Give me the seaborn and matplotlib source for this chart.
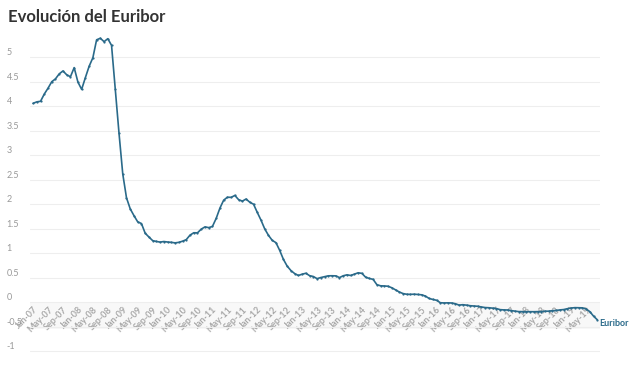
import numpy as np
import pandas as pd
import seaborn as sns
import matplotlib.pyplot as plt

# monthly 12-month Euribor, Jan-07 .. Aug-19
euribor = [
    4.064, 4.094, 4.106, 4.253, 4.373, 4.505, 4.564, 4.666, 4.725, 4.647, 4.607, 4.793,
    4.498, 4.349, 4.590, 4.820, 4.994, 5.361, 5.393, 5.323, 5.384, 5.248, 4.350, 3.452,
    2.622, 2.135, 1.909, 1.771, 1.644, 1.610, 1.412, 1.334, 1.261, 1.243, 1.231, 1.242,
    1.232, 1.225, 1.215, 1.225, 1.249, 1.281, 1.373, 1.421, 1.420, 1.495, 1.541, 1.526,
    1.550, 1.714, 1.924, 2.086, 2.147, 2.144, 2.183, 2.097, 2.067, 2.110, 2.044, 2.004,
    1.837, 1.678, 1.499, 1.368, 1.266, 1.219, 1.061, 0.877, 0.740, 0.650, 0.588, 0.549,
    0.575, 0.594, 0.545, 0.528, 0.484, 0.507, 0.525, 0.542, 0.543, 0.541, 0.506, 0.543,
    0.562, 0.549, 0.577, 0.604, 0.592, 0.513, 0.488, 0.469, 0.362, 0.338, 0.335, 0.329,
    0.298, 0.255, 0.212, 0.180, 0.165, 0.163, 0.167, 0.161, 0.154, 0.128, 0.079, 0.059,
    0.042, -0.008, -0.012, -0.010, -0.013, -0.028, -0.056, -0.048, -0.057, -0.069, -0.074, -0.080,
    -0.095, -0.106, -0.110, -0.119, -0.127, -0.149, -0.154, -0.156, -0.168, -0.180, -0.189, -0.190,
    -0.189, -0.191, -0.191, -0.190, -0.188, -0.181, -0.180, -0.169, -0.166, -0.154, -0.147, -0.129,
    -0.116, -0.108, -0.109, -0.112, -0.134, -0.190, -0.283, -0.356,
]
months = pd.date_range('2007-01-01', periods=len(euribor), freq='MS')
month_labels = [d.strftime('%b-%y') for d in months]
y_ticks = [-1, -0.5, 0, 0.5, 1, 1.5, 2, 2.5, 3, 3.5, 4, 4.5, 5]

df = pd.DataFrame({'idx': np.arange(len(euribor)), 'Euribor': euribor})

sns.set_style('white')
plt.rcParams['font.family'] = ['Lato', 'DejaVu Sans']

line_color = '#2a6a8a'
fig = plt.figure(figsize=(6.4, 3.85), dpi=100)
ax = fig.add_axes([0.047, 0.062, 0.891, 0.865])

ax.axhspan(-0.55, 0, color='#f8f8f8', zorder=0, lw=0)
sns.lineplot(data=df, x='idx', y='Euribor', ax=ax, color=line_color, lw=1.2,
             marker='o', markersize=1.6, markeredgewidth=0, zorder=3)

ax.set_xlim(-0.8, len(euribor) - 0.2)
ax.set_ylim(-1.2, 5.6)
ax.set_xlabel('')
ax.set_ylabel('')

# x axis sits on the zero line (set position first, it resets the ticks)
ax.spines['bottom'].set_position(('data', 0))
for s in ax.spines.values():
    s.set_visible(False)

ax.set_yticks(y_ticks)
ax.set_yticklabels([f'{v:g}' for v in y_ticks], fontsize=6.5, color='#999999')
for t in ax.get_yticklabels():
    t.set_verticalalignment('bottom')
    t.set_horizontalalignment('left')
ax.tick_params(axis='y', length=0, pad=17)
ax.grid(axis='y', color='#eeeeee', lw=0.8)
ax.grid(axis='x', visible=False)

tick_idx = list(range(0, len(euribor), 4))
ax.set_xticks(tick_idx)
ax.set_xticklabels([month_labels[i] for i in tick_idx], rotation=45, ha='right',
                   rotation_mode='anchor', fontsize=6.5, color='#a8a8a8',
                   fontweight='bold')
ax.tick_params(axis='x', length=0, pad=2)

ax.text(len(euribor) - 0.6, euribor[-1] - 0.07, 'Euribor', fontsize=6.5,
        color=line_color, fontweight='bold', va='center', ha='left')

fig.text(0.012, 0.955, 'Evolución del Euribor', fontsize=12, fontweight='bold',
         color='#333333', va='center', ha='left')

fig.savefig('out.png', dpi=100)
